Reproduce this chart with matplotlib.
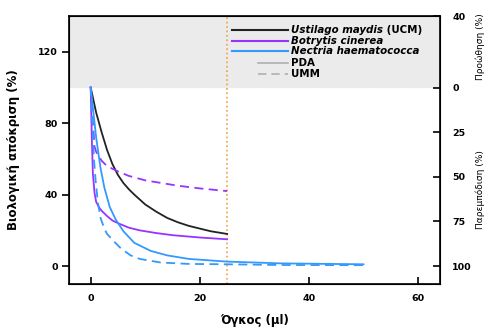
import matplotlib
matplotlib.use("Agg")
import matplotlib.pyplot as plt
import matplotlib.transforms as mtrans

plt.rcParams['font.family'] = ['DejaVu Sans']

# Ustilago maydis (UCM), PDA
um_x = [0, 1, 2, 3, 4, 5, 6, 7, 8, 10, 12, 14, 16, 18, 20, 22, 25]
um_y = [100, 86, 75, 65, 57, 51, 46.5, 43, 40, 34.5, 30.5, 27, 24.5, 22.5, 21, 19.5, 18]

# Botrytis cinerea, PDA / UMM
bc_pda_x = [0, 0.2, 0.4, 0.7, 1, 1.5, 2, 3, 4, 5, 7, 9, 12, 15, 20, 25]
bc_pda_y = [100, 72, 52, 41, 36, 33, 31, 28, 25.5, 24, 21.5, 20, 18.5, 17.3, 16, 15]
bc_umm_x = [0, 0.3, 0.7, 1, 2, 3, 5, 7, 10, 13, 16, 20, 25]
bc_umm_y = [100, 85, 67, 64, 59, 56, 53, 50.5, 48, 46.5, 45, 43.5, 42]

# Nectria haematococca, PDA / UMM
nh_pda_x = [0, 0.5, 1, 1.8, 2.5, 3.5, 4.6, 6, 8, 11, 14, 18, 25, 35, 50]
nh_pda_y = [100, 86, 72, 55, 44, 33, 26, 19.5, 13, 8.5, 6, 4, 2.5, 1.5, 1]
nh_umm_x = [0, 0.3, 0.6, 0.9, 1.3, 1.8, 2.5, 3, 4.2, 5.5, 7.3, 9, 12.8, 18, 25, 35, 50]
nh_umm_y = [100, 80, 60, 48, 36, 27, 21, 18, 14, 10, 6, 4, 2, 1.2, 1, 0.6, 0.5]

left_ticks = [0, 40, 80, 120]
right_ticks = [140, 100, 75, 50, 25, 0]
right_labels = ['40', '0', '25', '50', '75', '100']
x_ticks = [0, 20, 40, 60]

c_black = '#222222'
c_purple = '#9933ff'
c_blue = '#3399ff'
dash = (0, (5, 3))

fig = plt.figure(figsize=(4.85, 3.29), dpi=100)
ax = fig.add_axes([0.142, 0.137, 0.765, 0.814])

ax.axhspan(100, 140, color='#ebebeb', zorder=0, lw=0)
ax.axhline(100, color='#f8f8f8', lw=0.8, ls=':', zorder=0.5)
ax.axvline(25, color='#f0a040', lw=1.2, ls=':', zorder=1)

lw = 1.3
ax.plot(um_x, um_y, color=c_black, lw=lw)
ax.plot(bc_pda_x, bc_pda_y, color=c_purple, lw=lw)
ax.plot(bc_umm_x, bc_umm_y, color=c_purple, lw=lw, ls=dash)
ax.plot(nh_pda_x, nh_pda_y, color=c_blue, lw=lw)
ax.plot(nh_umm_x, nh_umm_y, color=c_blue, lw=lw, ls=dash)

ax.set_xlim(-4, 64)
ax.set_ylim(-10, 140)
ax.set_xticks(x_ticks)
ax.set_yticks(left_ticks)
for s in ax.spines.values():
    s.set_linewidth(1.2)
ax.tick_params(axis='y', direction='out', length=5, width=1.2, labelsize=6.8, pad=3)
ax.tick_params(axis='x', direction='in', length=5, width=1.2, labelsize=6.8, pad=7)
for lab in ax.get_xticklabels() + ax.get_yticklabels():
    lab.set_fontweight('bold')

ax2 = ax.twinx()
ax2.set_ylim(-10, 140)
ax2.set_yticks(right_ticks)
ax2.set_yticklabels(right_labels, fontweight='bold')
ax2.tick_params(axis='y', direction='in', length=5, width=1.2, labelsize=6.8, pad=9)

ax.set_xlabel('Όγκος (μl)', fontsize=8.5, fontweight='bold', labelpad=8)
ax.set_ylabel('Βιολογική απόκριση (%)', fontsize=8.5, fontweight='bold', labelpad=13)

tr = mtrans.blended_transform_factory(ax.transAxes, ax.transData)
ax.text(1.11, 123, 'Προώθηση (%)', rotation=90, fontsize=6.5, ha='center', va='center', transform=tr)
ax.text(1.11, 43, 'Παρεμπόδιση (%)', rotation=90, fontsize=6.5, ha='center', va='center', transform=tr)

# legend drawn by hand (grey handles are shorter)
entries = [
    ('Ustilago maydis', c_black, '-', 0.439),
    ('Botrytis cinerea', c_purple, '-', 0.439),
    ('Nectria haematococca', c_blue, '-', 0.439),
    ('PDA', '#b0b0b0', '-', 0.509),
    ('UMM', '#b0b0b0', dash, 0.509),
]
rows = [0.948, 0.907, 0.869, 0.826, 0.785]
for (name, col, ls, x0), y in zip(entries, rows):
    ax.plot([x0, 0.590], [y, y], color=col, ls=ls, lw=1.5 if col != '#b0b0b0' else 1.2,
            transform=ax.transAxes, clip_on=False)
    italic = name not in ('PDA', 'UMM')
    t = ax.text(0.600, y, name, transform=ax.transAxes, fontsize=7.4, fontweight='bold',
                style='italic' if italic else 'normal', va='center', ha='left')
    if name == 'Ustilago maydis':
        ax.annotate(' (UCM)', xy=(1, 0.5), xycoords=t, fontsize=7.4, fontweight='bold',
                    va='center', ha='left')

fig.savefig('out.png', dpi=100)
